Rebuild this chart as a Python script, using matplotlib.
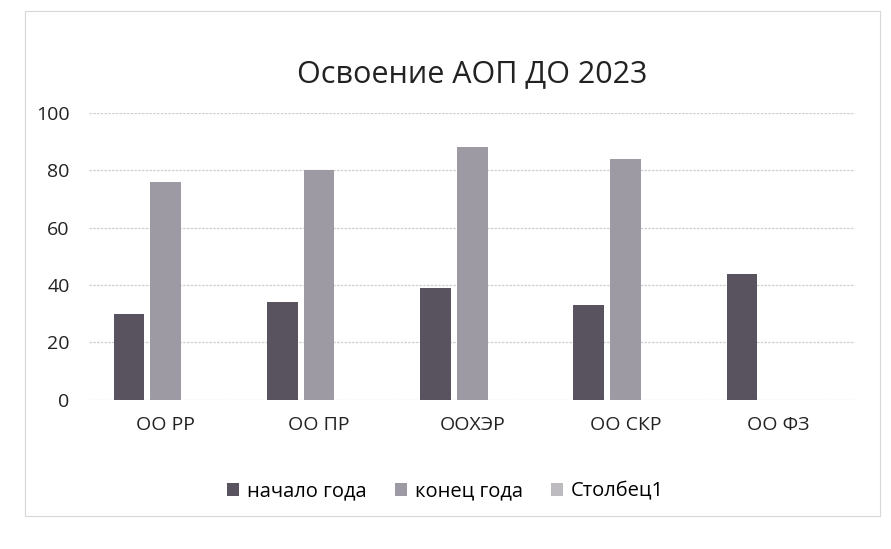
import numpy as np
import matplotlib
matplotlib.use("Agg")
from matplotlib import pyplot as plt
from matplotlib.patches import Rectangle

categories = ["ОО РР", "ОО ПР", "ООХЭР", "ОО СКР", "ОО ФЗ"]
start_year = [30, 34, 39, 33, 44]
end_year = [76, 80, 88, 84, 0]
column1 = [0, 0, 0, 0, 0]
series_names = ["начало года", "конец года", "Столбец1"]

plt.rcParams['font.family'] = ['Open Sans', 'DejaVu Sans']

fig = plt.figure(figsize=(8.91, 5.49), dpi=100)
fig.patches.append(Rectangle((0.028, 0.06), 0.96, 0.92, transform=fig.transFigure,
                             fill=False, edgecolor="#d8d8d8", linewidth=0.8))
ax = fig.add_axes([0.10, 0.272, 0.86, 0.522])

x = np.arange(len(categories))
slot = 0.24
width = 0.2
colors = ["#58535e", "#9e9aa3", "#bdbbbf"]
for i, (vals, name) in enumerate(zip([start_year, end_year, column1], series_names)):
    ax.bar(x + (i - 1) * slot, vals, width, color=colors[i], label=name, zorder=3)

ax.set_ylim(0, 100)
ax.set_yticks(range(0, 101, 20))
ax.set_xlim(-0.5, len(categories) - 0.5)
ax.set_xticks(x)
ax.set_xticklabels(categories)
ax.tick_params(axis='both', length=0, labelsize=14, colors="#222222")
ax.tick_params(axis='x', pad=12)
ax.tick_params(axis='y', pad=14)
ax.grid(axis='y', color="#cfcfcf", linewidth=0.9, linestyle=(0, (2, 1)), zorder=0)
for s in ax.spines.values():
    s.set_visible(False)

fig.text(0.53, 0.865, "Освоение АОП ДО 2023", ha="center", va="center",
         fontsize=22, color="#222222")

fig.legend(loc="center", bbox_to_anchor=(0.5, 0.105), ncol=3, frameon=False,
           fontsize=14.5, handlelength=0.6, handleheight=0.6, handletextpad=0.4,
           columnspacing=1.4)

fig.savefig("out.png", dpi=100)
